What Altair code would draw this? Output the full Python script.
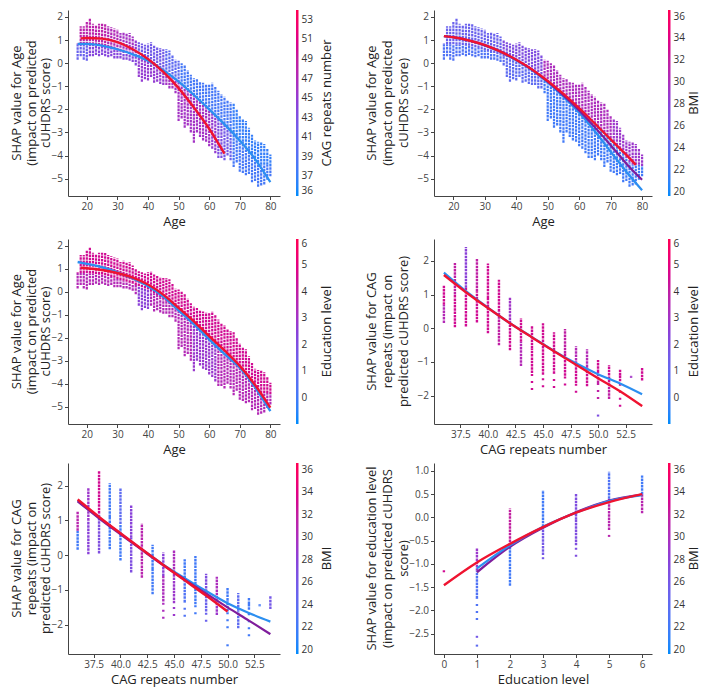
import altair as alt
import pandas as pd

FONT = "Open Sans"
STOPS = ["#008bfb", "#5c6cf2", "#8a40d8", "#c41c9b", "#ff0052"]
RED = "#ef1330"
BLUE = "#2c8ff0"
PURPLE = "#7f1d9c"

# ---------------- Age columns (shared by panels 1-3) ----------------
ages = list(range(17, 81))
age_hi = [0.85, 1.6, 1.6, 1.8, 1.95, 1.7, 1.65, 1.7, 1.7, 1.7,
          1.6, 1.55, 1.5, 1.45, 1.3, 1.35, 1.3, 1.3, 1.15, 1.0,
          0.9, 0.85, 0.8, 0.85, 0.9, 0.75, 0.7, 0.65, 0.6, 0.6,
          0.55, 0.35, 0.15, 0.1, 0.0, -0.1, -0.3, -0.5, -0.65, -0.7,
          -0.8, -0.85, -0.9, -0.92, -0.85, -1.0, -1.2, -1.35, -1.45, -1.6,
          -1.7, -1.76, -2.0, -2.25, -2.4, -2.5, -2.8, -3.1, -3.35, -3.4,
          -3.4, -3.5, -3.7, -3.95]
age_lo = [0.15, 0.3, 0.15, 0.1, 0.3, 0.3, 0.35, 0.3, 0.35, 0.3,
          0.25, 0.3, 0.2, 0.2, 0.2, 0.15, 0.15, 0.1, 0.05, -0.1,
          -0.6, -0.8, -0.7, -0.75, -0.6, -0.85, -0.8, -0.9, -0.95, -0.95,
          -1.1, -1.1, -1.3, -2.5, -2.4, -2.8, -2.7, -3.0, -3.45, -3.0,
          -3.2, -3.35, -3.4, -3.6, -3.7, -3.9, -4.1, -4.1, -4.2, -4.0,
          -4.2, -4.5, -4.3, -4.7, -4.75, -4.85, -4.8, -5.15, -5.1, -5.35,
          -5.3, -5.25, -5.05, -4.9]
age_mid = [0.82, 0.82, 0.82, 0.82, 0.8, 0.8, 0.78, 0.77, 0.75, 0.72,
           0.69, 0.65, 0.61, 0.56, 0.52, 0.48, 0.44, 0.4, 0.36, 0.3,
           0.25, 0.2, 0.15, 0.1, 0.02, -0.06, -0.14, -0.23, -0.33, -0.43,
           -0.53, -0.63, -0.73, -0.83, -0.95, -1.07, -1.18, -1.29, -1.4, -1.52,
           -1.65, -1.78, -1.91, -2.04, -2.16, -2.28, -2.4, -2.51, -2.62, -2.75,
           -2.88, -3.0, -3.13, -3.26, -3.4, -3.55, -3.7, -3.9, -4.1, -4.3,
           -4.4, -4.4, -4.4, -4.45]

# colour values (upper / lower part of each column)
p1_top = [48, 48, 48, 48, 48, 48, 48, 48, 48, 48,
          47, 47, 47, 47, 46, 46, 46, 46, 46, 45,
          42, 42, 42, 42, 42, 42, 42, 42, 42, 40,
          40, 40, 40, 40, 38, 38, 38, 38, 38, 38,
          38, 38, 38, 38, 38, 38, 38, 38, 38, 38,
          38, 37, 37, 37, 37, 37, 37, 37, 37, 37,
          37, 37, 37, 37]
p1_bot = [41, 41, 41, 41, 44, 44, 44, 44, 44, 44,
          44, 44, 44, 44, 44, 44, 44, 44, 44, 44,
          45, 45, 45, 45, 45, 45, 45, 45, 45, 46,
          46, 46, 46, 46, 46, 46, 46, 46, 46, 46,
          46, 46, 46, 46, 45, 45, 43, 43, 42, 42,
          41, 38, 38, 38, 38, 38, 38, 38, 38, 38,
          38, 38, 38, 38]
p2_top = [25, 25, 25, 25, 25, 25, 25, 25, 25, 25,
          25, 25, 25, 25, 25, 25, 25, 25, 25, 27,
          27, 27, 27, 27, 27, 27, 27, 27, 27, 27,
          27, 27, 30, 30, 30, 30, 30, 30, 30, 30,
          30, 30, 30, 30, 30, 30, 30, 30, 30, 30,
          30, 30, 30, 30, 29, 29, 29, 29, 29, 29,
          29, 29, 29, 29]
p2_bot = [23, 23, 23, 23, 23, 23, 23, 23, 23, 23,
          23, 23, 23, 23, 23, 23, 23, 23, 23, 24,
          24, 24, 24, 24, 24, 24, 24, 24, 24, 24,
          24, 24, 22, 22, 22, 22, 22, 22, 22, 22,
          22, 22, 22, 22, 22, 22, 22, 22, 22, 22,
          22, 22, 22, 22, 22, 22, 22, 22, 22, 22,
          22, 22, 22, 22]
p3_top = [4.5, 4.5, 4.5, 4.5, 4.5, 4.5, 4.5, 4.5, 4.5, 4.5,
          4.5, 4.5, 4.5, 4.5, 4.5, 4.5, 4.5, 4.5, 4.5, 4.5,
          4.5, 4.5, 4.5, 4.5, 4.5, 4.5, 4.5, 4.5, 4.5, 4.5,
          4.5, 4.5, 4.5, 4.5, 4.5, 4.5, 4.5, 4.5, 4.5, 4.5,
          4.5, 4.5, 4.5, 4.5, 4.5, 4.5, 4.5, 4.5, 4.5, 4.5,
          4.5, 4.5, 4.5, 4.5, 4.5, 4.5, 4.5, 4.5, 4.5, 4.5,
          4.5, 4.5, 4.5, 4.5]
p3_bot = [3.5, 3.5, 3.5, 3.5, 3.5, 3.5, 3.5, 3.5, 3.5, 3.5,
          3.5, 3.5, 3.5, 3.5, 3.5, 3.5, 3.5, 3.5, 3.5, 3.5,
          2.5, 2.5, 2.5, 2.5, 3.5, 3.5, 3.5, 3.5, 3.5, 3.5,
          3.5, 3.5, 3.5, 3.5, 3.5, 3.5, 3.5, 3.5, 2.8, 2.8,
          2.8, 2.8, 2.8, 2.8, 2.8, 2.8, 3.5, 3.5, 3.5, 3.5,
          3.5, 3.5, 3.5, 3.5, 3.5, 3.5, 3.5, 3.5, 3.5, 3.5,
          3.5, 3.5, 3.5, 3.5]

# ---------------- CAG columns (panels 4-5) ----------------
cag = [36, 37, 38, 39, 40, 41, 42, 43, 44, 45, 46, 47, 48, 49, 50, 51, 52, 53, 54]
cag_hi = [1.27, 1.94, 2.41, 2.07, 1.92, 1.44, 0.92, 0.30, 0.08, 0.15, -0.12, -0.02, -0.53, -0.62, -0.94, -1.09, -1.21, -1.41, -1.18]
cag_mid = [0.7, 1.0, 1.2, 1.1, 0.9, 0.5, 0.15, -0.4, -0.6, -0.6, -0.75, -0.75, -1.05, -1.15, -1.3, -1.6, -1.4, -1.44, -1.35]
cag_dlo = [0.16, 0.03, 0.05, 0.17, -0.15, -0.50, -0.65, -1.12, -1.33, -1.38, -1.35, -1.41, -1.62, -1.72, -1.62, -2.10, -1.57, -1.47, -1.55]
cag_lo = [0.16, 0.03, 0.05, 0.17, -0.15, -0.50, -0.65, -1.12, -1.83, -1.75, -1.77, -1.70, -1.91, -1.72, -2.10, -2.10, -2.33, -1.47, -1.55]
p4_top = [4.5, 4.0, 2.5, 4.0, 4.5, 4.5, 3.0, 4.5, 4.5, 4.5, 4.5, 4.0, 3.5, 3.5, 4.5, 4.5, 4.5, 3.0, 4.5]
p4_bot = [3.5, 4.5, 4.5, 4.5, 4.5, 4.0, 4.5, 3.5, 4.5, 4.5, 4.5, 4.5, 4.5, 4.5, 4.0, 4.0, 4.5, 3.0, 4.5]
p5_top = [31, 29, 33, 22, 24, 28, 31, 22, 28, 30, 22, 22, 27, 30, 22, 24, 22, 22, 26]
p5_bot = [22, 28, 27, 22, 22, 27, 31, 22, 30, 29, 23, 22, 25, 29, 22, 24, 22, 22, 26]
cag_out_x = [50]
cag_out_y = [-2.59]
p4_out_c = [2.0]
p5_out_c = [22]

# ---------------- Education columns (panel 6) ----------------
edu = [1, 2, 3, 4, 5, 6]
edu_hi = [-0.67, 0.19, 0.59, 0.52, 0.98, 0.90]
edu_mid = [-1.15, -0.6, -0.2, -0.05, 0.4, 0.5]
edu_dlo = [-1.74, -1.47, -0.81, -0.60, -0.27, 0.09]
edu_lo = [-2.21, -1.47, -0.90, -0.85, -0.42, 0.09]
p6_top = [29, 32, 22, 27, 23, 22]
p6_bot = [23, 22, 26, 27, 31, 31]
edu_out_x = [0, 1, 1]
edu_out_y = [-1.16, -2.57, -2.76]
edu_out_c = [33, 26, 24]

# ---------------- fitted curves ----------------
p1_red_x = [18, 20, 25, 30, 35, 40, 45, 50, 55, 60, 65]
p1_red_y = [1.07, 1.09, 1.06, 0.91, 0.6, 0.18, -0.38, -1.08, -1.92, -2.84, -3.92]
p1_blue_x = [17, 20, 25, 30, 35, 40, 45, 50, 55, 60, 65, 70, 75, 80]
p1_blue_y = [0.83, 0.83, 0.76, 0.6, 0.38, 0.1, -0.3, -0.8, -1.38, -2.0, -2.65, -3.35, -4.15, -5.15]

p2_x = [17, 20, 25, 30, 35, 40, 45, 50, 55, 60, 65, 70, 75, 80]
p2_red_x = [17, 20, 25, 30, 35, 40, 45, 50, 55, 60, 65, 70, 75, 78]
p2_red_y = [1.17, 1.12, 0.98, 0.78, 0.5, 0.15, -0.27, -0.77, -1.33, -1.95, -2.62, -3.3, -3.97, -4.4]
p2_purple_y = [1.17, 1.12, 0.98, 0.78, 0.5, 0.14, -0.28, -0.8, -1.4, -2.05, -2.78, -3.55, -4.35, -5.05]
p2_blue_y = [1.17, 1.12, 0.98, 0.77, 0.48, 0.12, -0.3, -0.83, -1.45, -2.15, -2.95, -3.83, -4.7, -5.5]

p3_red_x = [18, 20, 25, 30, 35, 40, 45, 50, 55, 60, 65, 70, 75, 80]
p3_red_y = [1.05, 1.03, 0.95, 0.82, 0.62, 0.32, -0.12, -0.7, -1.28, -1.93, -2.55, -3.22, -4.05, -5.04]
p3_blue_x = [17, 20, 25, 30, 35, 40, 45, 50, 55, 60, 65, 70, 75, 80]
p3_blue_y = [1.3, 1.22, 1.07, 0.85, 0.58, 0.25, -0.2, -0.8, -1.4, -2.07, -2.7, -3.3, -4.15, -5.19]

p4_x = [36, 38, 40, 42, 44, 46, 48, 50, 52, 54]
p4_blue_y = [1.65, 1.1, 0.61, 0.15, -0.26, -0.67, -1.04, -1.36, -1.64, -1.96]
p4_red_y = [1.58, 1.07, 0.6, 0.15, -0.27, -0.68, -1.08, -1.48, -1.87, -2.31]

p5_x = [36, 38, 40, 42, 44, 46, 48, 50, 52, 54]
p5_blue_y = [1.57, 1.08, 0.62, 0.17, -0.27, -0.66, -1.03, -1.38, -1.66, -1.91]
p5_purple_y = [1.55, 1.06, 0.6, 0.15, -0.29, -0.7, -1.1, -1.5, -1.88, -2.27]
p5_red_x = [36, 38, 40, 42, 44, 46, 48, 50]
p5_red_y = [1.6, 1.1, 0.63, 0.17, -0.28, -0.72, -1.16, -1.62]

p6_red_x = [0, 1, 2, 3, 4, 5, 6]
p6_red_y = [-1.46, -0.97, -0.57, -0.21, 0.1, 0.33, 0.5]
p6_x = [1, 2, 3, 4, 5, 6]
p6_blue_y = [-1.1, -0.6, -0.2, 0.1, 0.35, 0.48]
p6_purple_y = [-1.18, -0.63, -0.22, 0.11, 0.36, 0.49]


def stop_domain(lo, hi):
    return [lo + (hi - lo) * k / 4 for k in range(5)]


def text_mark(t, x, y, angle, baseline="middle", size=13, opacity=1):
    return alt.Chart(pd.DataFrame({"t": [t]})).mark_text(
        angle=angle, align="center", baseline=baseline, font=FONT, fontSize=size,
        color="#222", opacity=opacity).encode(text="t:N", x=alt.value(x), y=alt.value(y))


def panel(cols, lines, outl, xdom, xvals, xfmt, xtitle, ydom, yvals, yfmt, ytitle,
          ytx, cdom, cvals, ctitle, w, h, sw, ctx, lexpr=None, spacer=0):
    xs = alt.Scale(domain=xdom, nice=False, zero=False)
    ys = alt.Scale(domain=ydom, nice=False, zero=False)
    cs = alt.Scale(domain=stop_domain(*cdom), range=STOPS, clamp=True)
    xax = alt.Axis(values=xvals, format=xfmt)
    yax = alt.Axis(values=yvals, format=yfmt)
    lkw = dict(type="gradient", orient="right", direction="vertical", gradientLength=h,
               gradientThickness=2.5, gradientStrokeWidth=0, values=cvals,
               labelFontSize=10, labelFont=FONT, labelColor="#333",
               labelOffset=3, labelOverlap=False, offset=16, padding=0)
    if lexpr:
        lkw["labelExpr"] = lexpr
    leg = alt.Legend(**lkw)

    def X(f):
        return alt.X(f, type="quantitative", scale=xs, axis=xax, title=xtitle)

    def Y(f):
        return alt.Y(f, type="quantitative", scale=ys, axis=yax, title=None)

    def C(f):
        return alt.Color(f, type="quantitative", scale=cs, legend=leg, title=None)

    df = pd.DataFrame(cols)
    bottom = "dlo" if "dlo" in cols else "lo"
    layers = [
        alt.Chart(df).mark_rule(strokeWidth=sw, strokeDash=[2.5, 0.8]).encode(
            x=X("x"), y=Y(bottom), y2=alt.Y2("mid"), color=C("cbot")),
        alt.Chart(df).mark_rule(strokeWidth=sw, strokeDash=[2.5, 0.8]).encode(
            x=X("x"), y=Y("mid"), y2=alt.Y2("hi"), color=C("ctop")),
    ]
    if "dlo" in cols:
        layers.append(alt.Chart(df).mark_rule(strokeWidth=sw, strokeDash=[2, 5]).encode(
            x=X("x"), y=Y("lo"), y2=alt.Y2("dlo"), color=C("cbot")))
    if outl is not None:
        # isolated dots: a 2 px long rule at each point
        layers.append(alt.Chart(pd.DataFrame(outl)).mark_rule(
            strokeWidth=sw, yOffset=-1, y2Offset=1).encode(
            x=X("x"), y=Y("y"), y2=alt.Y2("y"), color=C("c")))
    for lx, ly, col, lw in lines:
        layers.append(alt.Chart(pd.DataFrame({"x": lx, "y": ly})).mark_line(
            color=col, strokeWidth=lw, interpolate="monotone").encode(x=X("x"), y=Y("y")))
    # colour-bar title
    layers.append(text_mark(ctitle, w + ctx, h / 2, 270, baseline="top"))
    # three-line y-axis title
    for line, dx in zip(ytitle, ytx):
        layers.append(text_mark(line, dx, h / 2, 270))
    if spacer:
        # invisible mark that only reserves vertical room below the x-axis title
        layers.append(text_mark(".", w / 2, h + spacer, 0, size=2, opacity=0))
    return alt.layer(*layers).properties(width=w, height=h)


AGE_Y = ["SHAP value for Age", "(impact on predicted", "cUHDRS score)"]
CAG_Y = ["SHAP value for CAG", "repeats  (impact on", "predicted cUHDRS score)"]
EDU_Y = ["SHAP value for education level", "(impact on predicted cUHDRS", "score)"]
LEFT_T = [-51, -36.5, -22]
RIGHT_T = [-62, -46, -30]
AGE_XD = [13.85, 83.15]
AGE_YD = [-5.75, 2.3]
AGE_XV = [20, 30, 40, 50, 60, 70, 80]
AGE_YV = [-5, -4, -3, -2, -1, 0, 1, 2]
CAG_XD = [35.1, 54.9]
CAG_YD = [-2.84, 2.65]
CAG_XV = [37.5, 40, 42.5, 45, 47.5, 50, 52.5]
CAG_YV = [-2, -1, 0, 1, 2]
CAGC_D = [35, 54]
CAGC_V = [35, 37, 39, 41, 43, 45, 47, 49, 51, 53]
CAGC_EXPR = "datum.value == 35 ? '36' : datum.label"
BMI_D = [19.6, 36.6]
BMI_V = [20, 22, 24, 26, 28, 30, 32, 34, 36]
EDU_D = [-1, 6]
EDU_V = [0, 1, 2, 3, 4, 5, 6]

WL, WR = 212, 218
H1, H2, H3 = 186, 185, 191
SPACER = 36

p1 = panel(dict(x=ages, lo=age_lo, mid=age_mid, hi=age_hi, ctop=p1_top, cbot=p1_bot),
           [(p1_blue_x, p1_blue_y, BLUE, 2.2), (p1_red_x, p1_red_y, RED, 2.4)], None,
           AGE_XD, AGE_XV, "d", "Age", AGE_YD, AGE_YV, "d", AGE_Y, LEFT_T,
           CAGC_D, CAGC_V, "CAG repeats number", WL, H1, 2.2, 41, CAGC_EXPR, SPACER)
p2 = panel(dict(x=ages, lo=age_lo, mid=age_mid, hi=age_hi, ctop=p2_top, cbot=p2_bot),
           [(p2_x, p2_blue_y, BLUE, 2.2), (p2_x, p2_purple_y, PURPLE, 2.2),
            (p2_red_x, p2_red_y, RED, 2.4)], None,
           AGE_XD, AGE_XV, "d", "Age", AGE_YD, AGE_YV, "d", AGE_Y, RIGHT_T,
           BMI_D, BMI_V, "BMI", WR, H1, 2.2, 36, None, SPACER)
p3 = panel(dict(x=ages, lo=age_lo, mid=age_mid, hi=age_hi, ctop=p3_top, cbot=p3_bot),
           [(p3_blue_x, p3_blue_y, BLUE, 2.4), (p3_red_x, p3_red_y, RED, 2.4)], None,
           AGE_XD, AGE_XV, "d", "Age", AGE_YD, AGE_YV, "d", AGE_Y, LEFT_T,
           EDU_D, EDU_V, "Education level", WL, H2, 2.2, 41)
p4 = panel(dict(x=cag, lo=cag_lo, dlo=cag_dlo, mid=cag_mid, hi=cag_hi, ctop=p4_top, cbot=p4_bot),
           [(p4_x, p4_blue_y, BLUE, 2.2), (p4_x, p4_red_y, RED, 2.4)],
           dict(x=cag_out_x, y=cag_out_y, c=p4_out_c),
           CAG_XD, CAG_XV, ".1f", "CAG repeats number", CAG_YD, CAG_YV, "d", CAG_Y, RIGHT_T,
           EDU_D, EDU_V, "Education level", WR, H2, 2.4, 36)
p5 = panel(dict(x=cag, lo=cag_lo, dlo=cag_dlo, mid=cag_mid, hi=cag_hi, ctop=p5_top, cbot=p5_bot),
           [(p5_x, p5_blue_y, BLUE, 2.2), (p5_x, p5_purple_y, PURPLE, 2.2),
            (p5_red_x, p5_red_y, RED, 2.6)],
           dict(x=cag_out_x, y=cag_out_y, c=p5_out_c),
           CAG_XD, CAG_XV, ".1f", "CAG repeats number", CAG_YD, CAG_YV, "d", CAG_Y, LEFT_T,
           BMI_D, BMI_V, "BMI", WL, H3, 2.4, 41)
p6 = panel(dict(x=edu, lo=edu_lo, dlo=edu_dlo, mid=edu_mid, hi=edu_hi, ctop=p6_top, cbot=p6_bot),
           [(p6_x, p6_purple_y, PURPLE, 2.4), (p6_x, p6_blue_y, BLUE, 2.2),
            (p6_red_x, p6_red_y, RED, 2.4)],
           dict(x=edu_out_x, y=edu_out_y, c=edu_out_c),
           [-0.3, 6.3], EDU_V, "d", "Education level", [-2.94, 1.17],
           [-2.5, -2.0, -1.5, -1.0, -0.5, 0.0, 0.5, 1.0], ".1f", EDU_Y, RIGHT_T,
           BMI_D, BMI_V, "BMI", WR, H3, 2.4, 36)

chart = alt.concat(p1, p2, p3, p4, p5, p6, columns=2, align="each",
                   spacing={"row": 6, "column": 32}).resolve_scale(
    color="independent", x="independent", y="independent"
).configure(font=FONT, padding={"top": 2, "left": 3, "right": 0, "bottom": 0}).configure_axis(
    grid=False, domainColor="#444", tickColor="#444", labelColor="#444",
    titleColor="#222", labelFont=FONT, titleFont=FONT, labelFontSize=10,
    titleFontSize=13, titleFontWeight="normal", tickSize=3.5, labelPadding=2,
    domainWidth=1, tickWidth=1
).configure_axisX(titlePadding=4).configure_view(stroke=None)

chart.save("out.html", embed_options={"renderer": "svg", "actions": False})
